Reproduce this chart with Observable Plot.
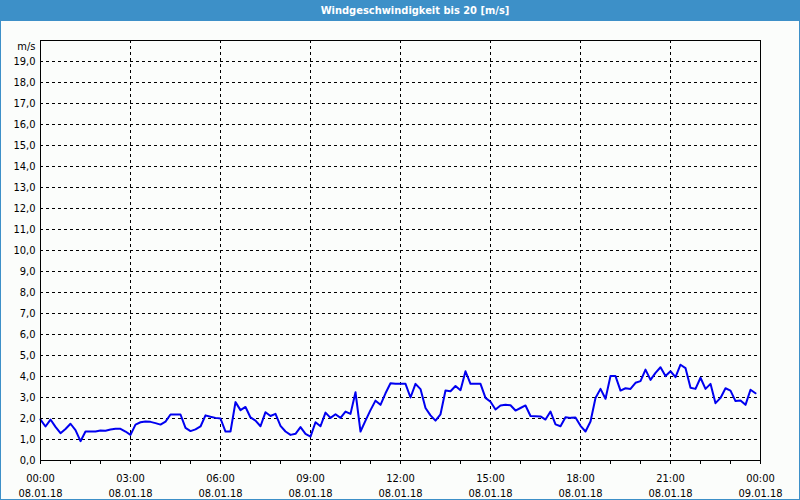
<!DOCTYPE html>
<html>
<head>
<meta charset="utf-8">
<script src="https://cdn.jsdelivr.net/npm/d3@7"></script>
<script src="https://cdn.jsdelivr.net/npm/@observablehq/plot@0.6"></script>
<style>
  html, body { margin: 0; padding: 0; background: #fbfdfb; }
  #win { width: 800px; height: 500px; box-sizing: border-box; border: 1px solid #3d90c8; border-top: none; background: #fbfdfb; overflow: hidden; }
  #title { height: 21px; background: #3d90c8; color: #fff; font: bold 11px "DejaVu Sans Condensed", "DejaVu Sans", Tahoma, sans-serif; line-height: 21px; text-align: center; padding-left: 30px; margin: 0 -1px; }
  #chart svg { display: block; }
</style>
</head>
<body>
<div id="win">
  <div id="title"></div>
  <div id="chart"></div>
</div>
<script>
const titleText = "Windgeschwindigkeit bis 20 [m/s]";
const unitLabel = "m/s";
const stepMinutes = 10;
// wind speed every 10 minutes, 08.01.18 00:00 – 23:50
const speeds = [
  1.95, 1.62, 1.95, 1.60, 1.30, 1.50, 1.75, 1.45, 0.92, 1.38,
  1.38, 1.38, 1.43, 1.42, 1.48, 1.51, 1.51, 1.38, 1.22, 1.71,
  1.82, 1.86, 1.84, 1.78, 1.71, 1.85, 2.19, 2.19, 2.19, 1.55,
  1.40, 1.48, 1.62, 2.15, 2.08, 2.03, 2.00, 1.38, 1.38, 2.78,
  2.40, 2.55, 2.05, 1.90, 1.63, 2.30, 2.12, 2.22, 1.65, 1.38,
  1.22, 1.27, 1.59, 1.27, 1.14, 1.82, 1.63, 2.28, 2.03, 2.20,
  2.03, 2.33, 2.22, 3.25, 1.38, 1.90, 2.40, 2.85, 2.65, 3.20,
  3.68, 3.65, 3.65, 3.65, 3.00, 3.65, 3.40, 2.50, 2.15, 1.90,
  2.20, 3.33, 3.30, 3.55, 3.35, 4.25, 3.65, 3.65, 3.65, 2.98,
  2.80, 2.43, 2.62, 2.65, 2.63, 2.38, 2.50, 2.62, 2.12, 2.11,
  2.10, 1.95, 2.33, 1.72, 1.63, 2.06, 2.03, 2.05, 1.65, 1.38,
  1.86, 2.98, 3.41, 2.94, 4.02, 4.02, 3.33, 3.44, 3.41, 3.70,
  3.78, 4.33, 3.84, 4.17, 4.44, 4.02, 4.25, 3.97, 4.56, 4.40,
  3.46, 3.41, 3.94, 3.41, 3.65, 2.73, 2.98, 3.44, 3.33, 2.83,
  2.86, 2.65, 3.37, 3.20
];
const yTicks = [0,1,2,3,4,5,6,7,8,9,10,11,12,13,14,15,16,17,18,19];
const yGrid = [1,2,3,4,5,6,7,8,9,10,11,12,13,14,15,16,17,18,19];
const hourTicks = [0,1,2,3,4,5,6,7,8,9,10,11,12,13,14,15,16,17,18,19,20,21,22,23,24];
const xGrid = [3,6,9,12,15,18,21];
const labelHours = [0,3,6,9,12,15,18,21,24];
const labelTimes = ["00:00","03:00","06:00","09:00","12:00","15:00","18:00","21:00","00:00"];
const labelDates = ["08.01.18","08.01.18","08.01.18","08.01.18","08.01.18","08.01.18","08.01.18","08.01.18","09.01.18"];

document.getElementById("title").textContent = titleText;

const data = speeds.map((v, i) => ({h: i * stepMinutes / 60, v}));
const xLabels = labelHours.map((h, i) => ({h, t: labelTimes[i] + "\n" + labelDates[i]}));

const font = '"DejaVu Sans Condensed", "DejaVu Sans", Tahoma, sans-serif';

const chart = Plot.plot({
  width: 798,
  height: 478,
  marginTop: 19,
  marginBottom: 39,
  marginLeft: 39,
  marginRight: 39,
  x: {domain: [0, 24]},
  y: {domain: [0, 20]},
  style: {background: "transparent", fontFamily: font, fontSize: "11px", color: "black", overflow: "visible"},
  marks: [
    Plot.ruleY(yGrid, {stroke: "black", strokeDasharray: "3,3", strokeWidth: 1}),
    Plot.ruleX(xGrid, {stroke: "black", strokeDasharray: "3,3", strokeWidth: 1}),
    Plot.line(data, {x: "h", y: "v", stroke: "#0000f0", strokeWidth: 2, curve: "linear"}),
    Plot.frame({stroke: "black"}),
    Plot.axisY({ticks: yTicks, tickSize: 0, tickPadding: 5, label: null,
      tickFormat: d => d.toFixed(1).replace(".", ",")}),
    Plot.axisX({ticks: hourTicks, tickSize: 4, label: null, tickFormat: () => ""}),
    Plot.text(xLabels, {x: "h", text: "t", frameAnchor: "bottom", lineAnchor: "top", dy: 11, lineHeight: 1.36, fill: "black"}),
    Plot.text([unitLabel], {text: d => d, frameAnchor: "top-left", textAnchor: "end", lineAnchor: "middle", dx: -5, dy: 6, fill: "black"})
  ]
});
document.getElementById("chart").append(chart);
</script>
</body>
</html>
